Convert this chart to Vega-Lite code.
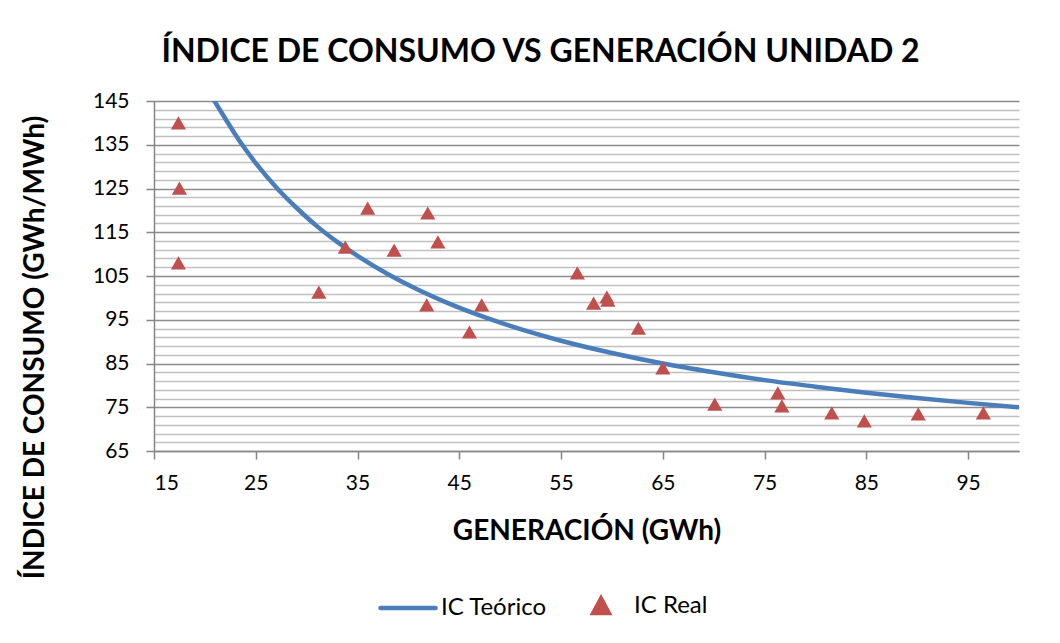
{
  "$schema": "https://vega.github.io/schema/vega-lite/v6.json",
  "width": 865,
  "height": 350,
  "autosize": {"type": "none"},
  "padding": {"left": 154, "top": 101, "right": 41, "bottom": 192},
  "background": "white",
  "config": {
    "font": "Lato",
    "view": {"stroke": null},
    "axis": {"labelFont": "Lato", "titleFont": "Lato", "labelColor": "#000000", "titleColor": "#000000"},
    "legend": {
      "orient": "none", "legendX": 224, "legendY": 475,
      "direction": "horizontal", "title": null,
      "labelFontSize": 24, "labelFont": "Lato", "labelColor": "#000000",
      "symbolSize": 3025, "labelOffset": 3, "columnPadding": 24
    }
  },
  "title": {
    "text": "ÍNDICE DE CONSUMO VS GENERACIÓN UNIDAD 2",
    "fontSize": 32,
    "fontWeight": "bold",
    "font": "Lato",
    "color": "#000000",
    "anchor": "middle",
    "dx": -46,
    "offset": 21
  },
  "datasets": {
    "curve": [
      {"gen": 20.7, "ic": 145.9, "serie": "IC Teórico"},
      {"gen": 22, "ic": 141.0, "serie": "IC Teórico"},
      {"gen": 23, "ic": 137.3, "serie": "IC Teórico"},
      {"gen": 24, "ic": 133.9, "serie": "IC Teórico"},
      {"gen": 25, "ic": 130.8, "serie": "IC Teórico"},
      {"gen": 27, "ic": 125.3, "serie": "IC Teórico"},
      {"gen": 29, "ic": 120.6, "serie": "IC Teórico"},
      {"gen": 31, "ic": 116.4, "serie": "IC Teórico"},
      {"gen": 33, "ic": 112.8, "serie": "IC Teórico"},
      {"gen": 35, "ic": 109.6, "serie": "IC Teórico"},
      {"gen": 38, "ic": 105.4, "serie": "IC Teórico"},
      {"gen": 41, "ic": 101.8, "serie": "IC Teórico"},
      {"gen": 44, "ic": 98.7, "serie": "IC Teórico"},
      {"gen": 47, "ic": 96.0, "serie": "IC Teórico"},
      {"gen": 50, "ic": 93.6, "serie": "IC Teórico"},
      {"gen": 55, "ic": 90.2, "serie": "IC Teórico"},
      {"gen": 60, "ic": 87.4, "serie": "IC Teórico"},
      {"gen": 65, "ic": 85.0, "serie": "IC Teórico"},
      {"gen": 70, "ic": 83.0, "serie": "IC Teórico"},
      {"gen": 75, "ic": 81.2, "serie": "IC Teórico"},
      {"gen": 80, "ic": 79.7, "serie": "IC Teórico"},
      {"gen": 85, "ic": 78.3, "serie": "IC Teórico"},
      {"gen": 90, "ic": 77.1, "serie": "IC Teórico"},
      {"gen": 95, "ic": 76.0, "serie": "IC Teórico"},
      {"gen": 100, "ic": 75.0, "serie": "IC Teórico"}
    ],
    "real": [
      {"gen": 17.4, "ic": 140.0, "serie": "IC Real"},
      {"gen": 17.5, "ic": 125.1, "serie": "IC Real"},
      {"gen": 17.4, "ic": 108.0, "serie": "IC Real"},
      {"gen": 31.2, "ic": 101.3, "serie": "IC Real"},
      {"gen": 33.8, "ic": 111.6, "serie": "IC Real"},
      {"gen": 36.0, "ic": 120.5, "serie": "IC Real"},
      {"gen": 38.6, "ic": 110.9, "serie": "IC Real"},
      {"gen": 41.9, "ic": 119.4, "serie": "IC Real"},
      {"gen": 41.8, "ic": 98.4, "serie": "IC Real"},
      {"gen": 42.9, "ic": 112.8, "serie": "IC Real"},
      {"gen": 46.0, "ic": 92.2, "serie": "IC Real"},
      {"gen": 47.2, "ic": 98.4, "serie": "IC Real"},
      {"gen": 56.6, "ic": 105.7, "serie": "IC Real"},
      {"gen": 58.2, "ic": 98.8, "serie": "IC Real"},
      {"gen": 59.5, "ic": 100.2, "serie": "IC Real"},
      {"gen": 59.6, "ic": 99.5, "serie": "IC Real"},
      {"gen": 62.6, "ic": 93.1, "serie": "IC Real"},
      {"gen": 65.0, "ic": 84.0, "serie": "IC Real"},
      {"gen": 70.1, "ic": 75.7, "serie": "IC Real"},
      {"gen": 76.3, "ic": 78.3, "serie": "IC Real"},
      {"gen": 76.7, "ic": 75.3, "serie": "IC Real"},
      {"gen": 81.6, "ic": 73.7, "serie": "IC Real"},
      {"gen": 84.8, "ic": 71.9, "serie": "IC Real"},
      {"gen": 90.1, "ic": 73.5, "serie": "IC Real"},
      {"gen": 96.5, "ic": 73.7, "serie": "IC Real"}
    ]
  },
  "resolve": {"axis": {"y": "independent"}},
  "layer": [
    {
      "data": {"name": "curve"},
      "mark": {"type": "line", "strokeWidth": 4.5, "clip": true, "interpolate": "monotone"},
      "encoding": {
        "x": {
          "field": "gen", "type": "quantitative",
          "scale": {"domain": [15, 100], "nice": false, "zero": false},
          "axis": {
            "values": [15, 25, 35, 45, 55, 65, 75, 85, 95],
            "grid": false, "domainColor": "#868686", "domainWidth": 1.5,
            "tickColor": "#868686", "tickSize": 8, "tickWidth": 1.5,
            "labelFontSize": 21, "labelPadding": 13,
            "title": "GENERACIÓN (GWh)", "titleFontSize": 28, "titleFontWeight": "bold",
            "titleY": 80, "titleBaseline": "middle"
          }
        },
        "y": {
          "field": "ic", "type": "quantitative",
          "scale": {"domain": [65, 145], "nice": false, "zero": false},
          "axis": {
            "orient": "left",
            "values": [67, 69, 71, 73, 77, 79, 81, 83, 87, 89, 91, 93, 97, 99, 101, 103, 107, 109, 111, 113, 117, 119, 121, 123, 127, 129, 131, 133, 137, 139, 141, 143],
            "grid": true, "gridColor": "#c0c0c0", "gridWidth": 1.5,
            "labels": false, "ticks": false, "domain": false, "title": null
          }
        },
        "color": {
          "field": "serie", "type": "nominal",
          "scale": {"domain": ["IC Teórico", "IC Real"], "range": ["#4a7ebb", "#c0504d"]},
          "legend": {
            "symbolType": "stroke",
            "encode": {
              "symbols": {
                "update": {
                  "shape": {"signal": "(datum.value === 'IC Teórico' ? 'stroke' : 'M0,-0.27L0.28,0.25L-0.28,0.25Z')"},
                  "stroke": {"signal": "(datum.value === 'IC Teórico' ? '#4a7ebb' : null)"},
                  "strokeWidth": {"value": 4.5},
                  "strokeCap": {"value": "round"},
                  "fill": {"signal": "(datum.value === 'IC Teórico' ? null : '#c0504d')"},
                  "opacity": {"value": 1}
                }
              }
            }
          }
        }
      }
    },
    {
      "data": {"name": "real"},
      "mark": {"type": "point", "shape": "triangle-up", "filled": true, "size": 230, "opacity": 1},
      "encoding": {
        "x": {"field": "gen", "type": "quantitative"},
        "y": {
          "field": "ic", "type": "quantitative",
          "axis": {
            "orient": "left",
            "values": [65, 75, 85, 95, 105, 115, 125, 135, 145],
            "grid": true, "gridColor": "#8c8c8c", "gridWidth": 1.5,
            "domainColor": "#868686", "domainWidth": 1.5,
            "tickColor": "#868686", "tickSize": 8, "tickWidth": 1.5,
            "labelFontSize": 21, "labelPadding": 17,
            "title": "ÍNDICE DE CONSUMO (GWh/MWh)", "titleFontSize": 28, "titleFontWeight": "bold",
            "titleAngle": -90, "titleX": -119, "titleY": 246, "titleAlign": "center", "titleBaseline": "middle"
          }
        },
        "color": {
          "field": "serie", "type": "nominal",
          "scale": {"domain": ["IC Teórico", "IC Real"], "range": ["#4a7ebb", "#c0504d"]},
          "legend": {
            "symbolType": "stroke",
            "encode": {
              "symbols": {
                "update": {
                  "shape": {"signal": "(datum.value === 'IC Teórico' ? 'stroke' : 'M0,-0.27L0.28,0.25L-0.28,0.25Z')"},
                  "stroke": {"signal": "(datum.value === 'IC Teórico' ? '#4a7ebb' : null)"},
                  "strokeWidth": {"value": 4.5},
                  "strokeCap": {"value": "round"},
                  "fill": {"signal": "(datum.value === 'IC Teórico' ? null : '#c0504d')"},
                  "opacity": {"value": 1}
                }
              }
            }
          }
        }
      }
    }
  ]
}
